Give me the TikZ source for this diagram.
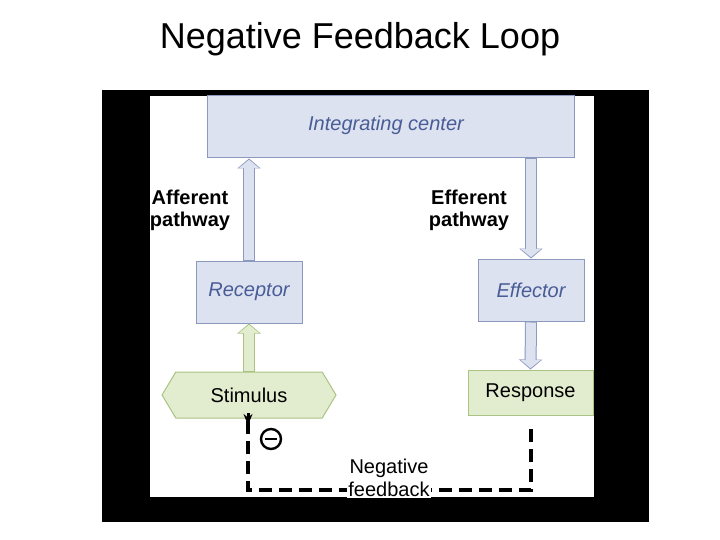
\documentclass[tikz,border=0pt]{standalone}
\usepackage{fontspec}
\setmainfont{Liberation Sans}
\usetikzlibrary{arrows.meta,shapes.symbols}

\definecolor{boxfill}{RGB}{221,226,240}
\definecolor{boxline}{RGB}{140,152,190}
\definecolor{boxtext}{RGB}{72,92,150}
\definecolor{greenfill}{RGB}{226,236,206}
\definecolor{greenline}{RGB}{170,195,130}

\tikzset{
  bluebox/.style={draw=boxline,fill=boxfill,line width=1pt,font=\itshape\fontsize{20}{22}\selectfont,text=boxtext,inner sep=0pt},
  greenbox/.style={draw=greenline,fill=greenfill,line width=1pt,font=\fontsize{20}{22}\selectfont,inner sep=0pt},
  side label/.style={font=\bfseries\fontsize{20}{22}\selectfont,align=center},
}

% block arrow, drawn twice: outline, then fill
\newcommand{\blockarrow}[4]{%
  \draw[#3,line width=12pt,-{Triangle[width=23pt,length=10pt]}] (#1) -- (#2);
  \draw[#4,line width=10pt,shorten >=1.3pt,shorten <=1pt,-{Triangle[width=20pt,length=8.3pt]}] (#1) -- (#2);
}

\begin{document}
\begin{tikzpicture}[x=1pt,y=-1pt]
\useasboundingbox (0,0) rectangle (720,540);

\node (title) at (360,39) {\fontsize{36}{40}\selectfont Negative Feedback Loop};

% frame
\fill[black] (102,90) rectangle (649,522);
\fill[white] (150,96) rectangle (594,497);

% boxes
\node (integ) [bluebox,minimum width=367pt,minimum height=62pt] at (390.5,127) {};
\node at (386,125) [font=\itshape\fontsize{20}{22}\selectfont,text=boxtext] {Integrating center};
\node (receptor) [bluebox,minimum width=106pt,minimum height=62pt] at (249,292) {Receptor};
\node (effector) [bluebox,minimum width=106pt,minimum height=62pt] at (531,290) {Effector};
\node (stimulus) [greenbox,signal,signal to=west and east,signal pointer angle=118,
  minimum width=174pt,minimum height=46pt] at (249,395) {Stimulus};
\node (response) [greenbox,minimum width=125pt,minimum height=45pt] at (530.5,392.5) {Response};

% arrows
\blockarrow{receptor.north}{integ.south -| receptor.north}{boxline}{boxfill}
\blockarrow{integ.south -| effector.north}{effector.north}{boxline}{boxfill}
\blockarrow{effector.south}{response.north}{boxline}{boxfill}
\blockarrow{stimulus.north}{receptor.south}{greenline}{greenfill}

% labels
\node (aff) [side label] at (190,210) {Afferent\\pathway};
\node (eff) [side label] at (469,210) {Efferent\\pathway};

% negative feedback
\coordinate (fbstart) at (531,429);
\coordinate (fbright) at (531,490);
\coordinate (fbleft) at (248,490);
\coordinate (fbend) at (248,425);
\draw[line width=4pt,dash pattern=on 13pt off 7pt] (fbstart) -- (fbright) -- (fbleft) -- ([yshift=8pt]fbend);
\draw[line width=3pt,-{Stealth[length=11pt,width=9pt]}] ([yshift=12pt]fbend) -- (fbend);
\node (minus) [draw,circle,line width=2.4pt,minimum size=20pt,inner sep=0pt] at (271,439) {};
\draw[line width=2.6pt] ([xshift=-6pt]minus.center) -- ([xshift=6pt]minus.center);
\node (fblabel) [fill=white,align=center,font=\fontsize{20}{23}\selectfont,inner sep=1pt] at (389,478) {Negative\\feedback};
\end{tikzpicture}
\end{document}
